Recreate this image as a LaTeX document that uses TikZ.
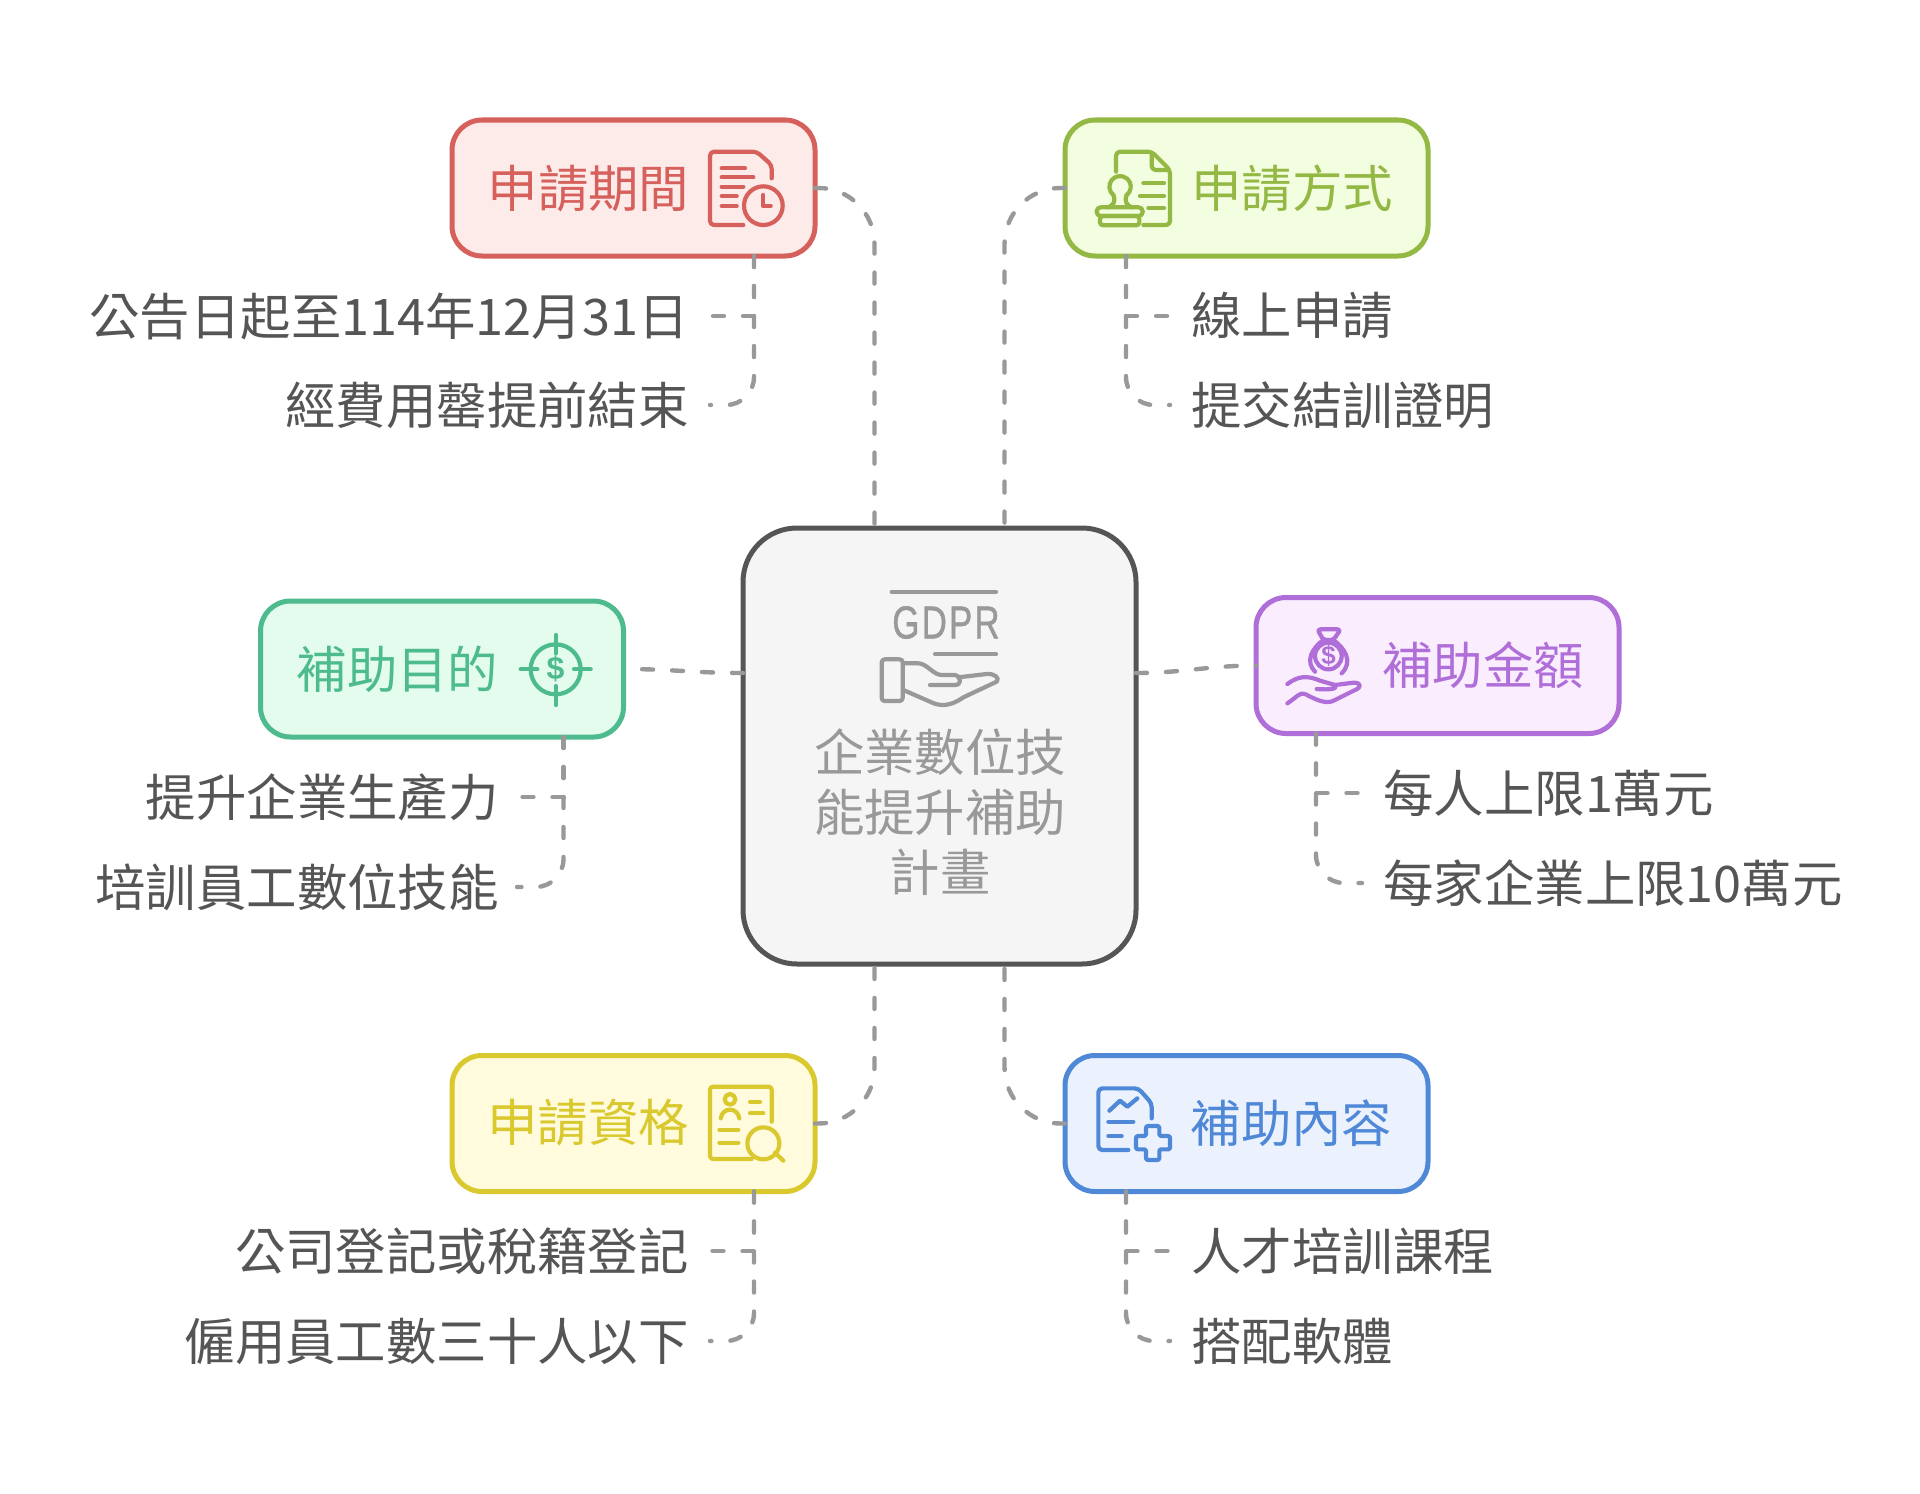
\documentclass[tikz,border=0pt]{standalone}
\usepackage{fontspec}
\setmainfont{Noto Sans CJK TC}
\newfontfamily\iconfont{Liberation Sans}
\newfontfamily\gdprfont[FakeBold=1.2,LetterSpace=6]{Liberation Sans}
\usetikzlibrary{calc}
\definecolor{redline}{HTML}{D6605B}\definecolor{redfill}{HTML}{FDEBEA}
\definecolor{limeline}{HTML}{93B944}\definecolor{limefill}{HTML}{F3FDDF}
\definecolor{tealline}{HTML}{4DBB8E}\definecolor{tealfill}{HTML}{E3FCEE}
\definecolor{violetline}{HTML}{B06FD8}\definecolor{violetfill}{HTML}{FAEEFE}
\definecolor{yellowline}{HTML}{D9C92E}\definecolor{yellowfill}{HTML}{FFFBDC}
\definecolor{blueline}{HTML}{5088D8}\definecolor{bluefill}{HTML}{EBF2FE}
\definecolor{labelgray}{HTML}{555555}
\definecolor{linkgray}{HTML}{999999}
\def\bigtext{\fontsize{25.2}{30}\selectfont}
\tikzset{
	catbox/.style n args={2}{draw=#1, fill=#2, line width=2.5pt, rounded corners=15pt, minimum width=181.5pt, minimum height=68pt, inner sep=0pt, outer sep=0pt},
	cattext/.style={text=#1, font=\bigtext, inner sep=0pt},
	lblleft/.style={anchor=east, text=labelgray, font=\bigtext, inner xsep=10.5pt, inner ysep=0pt},
	lblright/.style={anchor=west, text=labelgray, font=\bigtext, inner xsep=10.5pt, inner ysep=0pt},
	link/.style={draw=linkgray, line width=2.2pt, line cap=round, dash pattern=on 5.5pt off 9.5pt},
	ico/.style={draw=#1, line width=2.1pt, line cap=round, line join=round}
}

\begin{document}
\begin{tikzpicture}[x=0.5pt, y=-0.5pt]
			%%%%% START %%%%%
			\useasboundingbox (0, 0) rectangle (1920, 1493);
			\fill[white] (0, 0) rectangle (1920, 1493);
			
			\node[draw=labelgray, fill=black!4, line width=2.5pt, rounded corners=27pt, minimum width=196.5pt, minimum height=218pt, outer sep=0pt] (hub) at (939.5, 746) {};
			\node[text=linkgray, font=\bigtext, align=center, inner sep=0pt, text depth=0pt] (hubtext) at (940, 810) {企業數位技\\能提升補助\\計畫};
			
			\node[catbox={redline}{redfill}] (boxA) at (633.5, 188) {};
			\node[catbox={limeline}{limefill}] (boxB) at (1246.5, 188) {};
			\node[catbox={tealline}{tealfill}] (boxC) at (442, 669) {};
			\node[catbox={violetline}{violetfill}] (boxD) at (1437.5, 665.5) {};
			\node[catbox={yellowline}{yellowfill}] (boxE) at (633.5, 1123.5) {};
			\node[catbox={blueline}{bluefill}] (boxF) at (1246.5, 1123.5) {};
			
			\node[cattext=redline] (txtA) at (588.5, 188.5) {申請期間};
			\node[cattext=limeline] (txtB) at (1292, 188.5) {申請方式};
			\node[cattext=tealline] (txtC) at (397.5, 669) {補助目的};
			\node[cattext=violetline] (txtD) at (1483, 665.5) {補助金額};
			\node[cattext=yellowline] (txtE) at (588, 1123) {申請資格};
			\node[cattext=blueline] (txtF) at (1291.5, 1123) {補助內容};
			
			\node[lblleft] (lblA1) at (710, 316) {公告日起至114年12月31日};
			\node[lblleft] (lblA2) at (710, 405) {經費用罄提前結束};
			\node[lblright] (lblB1) at (1170, 316) {線上申請};
			\node[lblright] (lblB2) at (1170, 405) {提交結訓證明};
			\node[lblleft, inner xsep=9pt] (lblC1) at (517, 797) {提升企業生產力};
			\node[lblleft, inner xsep=9pt] (lblC2) at (517, 887) {培訓員工數位技能};
			\node[lblright] (lblD1) at (1362, 793) {每人上限1萬元};
			\node[lblright] (lblD2) at (1362, 883) {每家企業上限10萬元};
			\node[lblleft] (lblE1) at (710, 1251) {公司登記或稅籍登記};
			\node[lblleft] (lblE2) at (710, 1341) {僱用員工數三十人以下};
			\node[lblright] (lblF1) at (1170, 1251) {人才培訓課程};
			\node[lblright] (lblF2) at (1170, 1341) {搭配軟體};
			
			\coordinate (hubNW) at ($(hub.north)+(-65, 0)$);
			\coordinate (hubNE) at ($(hub.north)+(65, 0)$);
			\coordinate (hubSW) at ($(hub.south)+(-65, 0)$);
			\coordinate (hubSE) at ($(hub.south)+(65, 0)$);
			\coordinate (hubW) at ($(hub.west)+(0, -73)$);
			\coordinate (hubE) at ($(hub.east)+(0, -73)$);
			\coordinate (stemA) at ($(boxA.south east)+(-61, 0)$);
			\coordinate (stemB) at ($(boxB.south west)+(61, 0)$);
			\coordinate (stemC) at ($(boxC.south east)+(-60, 0)$);
			\coordinate (stemD) at ($(boxD.south west)+(60, 0)$);
			\coordinate (stemE) at ($(boxE.south east)+(-61, 0)$);
			\coordinate (stemF) at ($(boxF.south west)+(61, 0)$);
			
			\draw[link, rounded corners=28pt] (boxA.east) -| (hubNW);
			\draw[link, rounded corners=28pt] (boxB.west) -| (hubNE);
			\draw[link] (hubW) to[out=180, in=0] (boxC.east);
			\draw[link] (hubE) to[out=0, in=180] (boxD.west);
			\draw[link, rounded corners=28pt] (boxE.east) -| (hubSW);
			\draw[link, rounded corners=28pt] (boxF.west) -| (hubSE);
			
			\draw[link] (stemA) |- (lblA1.east);
			\draw[link, rounded corners=14pt] (stemA) |- (lblA2.east);
			\draw[link] (stemB) |- (lblB1.west);
			\draw[link, rounded corners=14pt] (stemB) |- (lblB2.west);
			\draw[link] (stemC) |- (lblC1.east);
			\draw[link, rounded corners=14pt] (stemC) |- (lblC2.east);
			\draw[link] (stemD) |- (lblD1.west);
			\draw[link, rounded corners=14pt] (stemD) |- (lblD2.west);
			\draw[link] (stemE) |- (lblE1.east);
			\draw[link, rounded corners=14pt] (stemE) |- (lblE2.east);
			\draw[link] (stemF) |- (lblF1.west);
			\draw[link, rounded corners=14pt] (stemF) |- (lblF2.west);
			
			% hub icon
			\begin{scope}[shift={(700, 500)}, x=0.16667pt, y=-0.16667pt, every path/.style={ico=linkgray}]
				\draw (575, 275) -- (888, 275);
				\draw (705, 463) -- (888, 463);
				\draw[rounded corners=1.5pt] (545, 478) rectangle (608, 603);
				\draw (610, 490) -- (655, 490) .. controls (680, 490) and (700, 525) .. (725, 525) -- (765, 525) .. controls (785, 530) and (785, 555) .. (765, 555) -- (690, 555);
				\draw (775, 532) -- (860, 522) .. controls (885, 520) and (900, 535) .. (890, 545) -- (790, 592) .. controls (750, 620) and (720, 620) .. (690, 605) -- (610, 570);
			\end{scope}
			\node[text=linkgray, font=\gdprfont\fontsize{23}{23}\selectfont, inner sep=0pt] (hubgdpr) at (946, 622.5) {\scalebox{.76}[1]{GDPR}};
			
			% clock document
			\begin{scope}[shift={(430, 100)}, x=0.16667pt, y=-0.16667pt, every path/.style={ico=redline}]
				\draw[rounded corners=2pt] (1025, 235) -- (1025, 195) -- (980, 155) -- (840, 155) -- (840, 375) -- (940, 375);
				\draw (875, 205) -- (945, 205);
				\draw (875, 232) -- (970, 232);
				\draw (875, 260) -- (940, 260);
				\draw (875, 288) -- (920, 288);
				\draw (875, 318) -- (920, 318);
				\draw (1000, 317) circle (58);
				\draw (1000, 285) -- (1000, 318) -- (1022, 318);
			\end{scope}
			
			% stamp document
			\begin{scope}[shift={(1040, 100)}, x=0.16667pt, y=-0.16667pt, every path/.style={ico=limeline}]
				\draw[rounded corners=2pt] (228, 215) -- (228, 155) -- (335, 155) -- (390, 210) -- (390, 375) -- (310, 375);
				\draw[rounded corners=2pt] (335, 160) -- (335, 210) -- (385, 210);
				\draw (310, 250) -- (372, 250);
				\draw (300, 288) -- (372, 288);
				\draw (325, 325) -- (372, 325);
				\draw (220, 285) arc (129:411:32);
				\draw (220, 285) .. controls (228, 305) and (220, 315) .. (205, 322);
				\draw (260, 285) .. controls (252, 305) and (260, 315) .. (275, 322);
				\draw[rounded corners=2pt] (170, 348) -- (170, 322) -- (308, 322) -- (308, 348) -- cycle;
				\draw[rounded corners=1.5pt] (180, 348) rectangle (298, 376);
			\end{scope}
			
			% target
			\begin{scope}[shift={(250, 590)}, x=0.16667pt, y=-0.16667pt, every path/.style={ico=tealline}]
				\draw (917, 238) circle (75);
				\draw (917, 135) -- (917, 190);
				\draw (917, 288) -- (917, 345);
				\draw (812, 238) -- (862, 238);
				\draw (972, 238) -- (1022, 238);
			\end{scope}
			\node[text=tealline, font=\iconfont\bfseries\fontsize{16}{16}\selectfont, inner sep=0pt] (dollarC) at (555.5, 669) {\$};
			
			% money bag
			\begin{scope}[shift={(1240, 590)}, x=0.16667pt, y=-0.16667pt, every path/.style={ico=violetline}]
				\draw[rounded corners=1.5pt] (232, 118) -- (302, 118) -- (280, 150) -- (250, 150) -- cycle;
				\draw (250, 150) .. controls (215, 175) and (195, 215) .. (225, 245);
				\draw (280, 150) .. controls (315, 175) and (340, 215) .. (305, 250);
				\draw (265, 198) circle (40);
				\draw (142, 282) .. controls (175, 258) and (200, 255) .. (240, 272) -- (285, 285) .. controls (295, 297) and (270, 300) .. (230, 297);
				\draw (285, 285) -- (340, 278) .. controls (365, 278) and (365, 292) .. (345, 300) -- (285, 330) .. controls (260, 345) and (230, 330) .. (195, 312) .. controls (180, 305) and (170, 322) .. (142, 340);
			\end{scope}
			\node[text=violetline, font=\iconfont\bfseries\fontsize{13}{13}\selectfont, inner sep=0pt] (dollarD) at (1328.5, 656) {\$};
			
			% person search
			\begin{scope}[shift={(440, 1040)}, x=0.16667pt, y=-0.16667pt, every path/.style={ico=yellowline}]
				\draw[rounded corners=1.5pt] (935, 357) -- (810, 357) -- (810, 140) -- (995, 140) -- (995, 245);
				\draw (870, 178) circle (16);
				\draw (842, 235) .. controls (848, 200) and (892, 200) .. (898, 235);
				\draw (930, 185) -- (960, 185);
				\draw (930, 220) -- (970, 220);
				\draw (838, 270) -- (895, 270);
				\draw (838, 308) -- (895, 308);
				\draw (970, 310) circle (48);
				\draw (1005, 338) -- (1030, 362);
			\end{scope}
			
			% plus document
			\begin{scope}[shift={(1050, 1040)}, x=0.16667pt, y=-0.16667pt, every path/.style={ico=blueline}]
				\draw[rounded corners=2pt] (235, 330) -- (145, 330) -- (145, 145) -- (265, 145) -- (305, 190) -- (305, 235);
				\draw (178, 212) -- (210, 182) -- (232, 200) -- (262, 175);
				\draw (175, 245) -- (250, 245);
				\draw (175, 288) -- (215, 288);
				\draw[rounded corners=1pt] (288, 258) -- (328, 258) -- (328, 288) -- (360, 288) -- (360, 328) -- (328, 328) -- (328, 360) -- (288, 360) -- (288, 328) -- (258, 328) -- (258, 288) -- (288, 288) -- cycle;
			\end{scope}
			
			%%%%% END %%%%%
		\end{tikzpicture}
\end{document}
